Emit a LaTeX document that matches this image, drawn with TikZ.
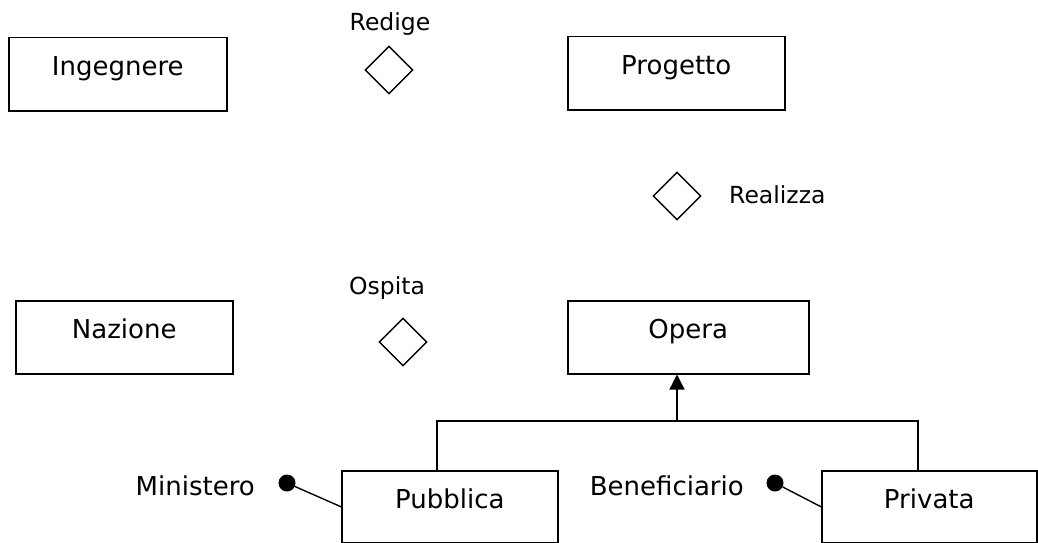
\documentclass[tikz,border=0pt]{standalone}
\usepackage{fontspec}
\setmainfont{DejaVu Sans}
\usetikzlibrary{shapes.geometric,arrows.meta}
\begin{document}
\begin{tikzpicture}[x=1pt,y=-1pt,
  ent/.style={draw,line width=1.5pt,rectangle,inner sep=0pt,minimum width=218pt,
    text height=38pt,text depth=35pt,font=\fontsize{26}{30}\selectfont},
  rel/.style={draw,line width=1.4pt,diamond,inner sep=0pt,minimum width=48pt,minimum height=48pt},
  rlab/.style={inner sep=0pt,font=\fontsize{23.5}{28}\selectfont},
  alab/.style={inner sep=0pt,font=\fontsize{26}{30}\selectfont},
  dot/.style={circle,fill,inner sep=0pt,minimum size=17pt},
  conn/.style={line width=1.4pt}]
\useasboundingbox (0,0) rectangle (1038,543);
\node[ent,anchor=north west] (ing) at (8,37) {Ingegnere};
\node[ent,anchor=north west,minimum width=217pt] (prog) at (567,36) {Progetto};
\node[ent,anchor=north west,minimum width=217pt] (naz) at (15,300) {Nazione};
\node[ent,anchor=north west,minimum width=241pt] (opera) at (567,300) {Opera};
\node[ent,anchor=north west,minimum width=216pt,text depth=34pt] (pub) at (341,470) {Pubblica};
\node[ent,anchor=north west,minimum width=215pt,text depth=34pt] (priv) at (821,470) {Privata};
\node[rel] (redige) at (389,70) {};
\node[rel] (realizza) at (677,196) {};
\node[rel] (ospita) at (403,342) {};
\node[rlab,anchor=base] (lredige) at (390,31) {Redige};
\node[rlab,anchor=base] (lospita) at (387,294) {Ospita};
\node[rlab,anchor=base west] (lrealizza) at (729,203) {Realizza};
\node[alab,anchor=base east] (lmin) at (255,495) {Ministero};
\node[alab,anchor=base east] (lben) at (744,495) {Beneficiario};
\node[dot] (dmin) at (287,483) {};
\node[dot] (dben) at (775,483) {};
\draw[conn] (dmin) -- (pub.west);
\draw[conn] (dben) -- (priv.west);
\coordinate (j) at (677,421);
\coordinate (jl) at (437,421);
\coordinate (jr) at (918,421);
\draw[conn] (pub.north -| jl) -- (jl) -- (jr) -- (priv.north -| jr);
\draw[conn,-{Triangle[width=15pt,length=15pt]}] (j) -- (opera.south -| j);
\end{tikzpicture}
\end{document}
